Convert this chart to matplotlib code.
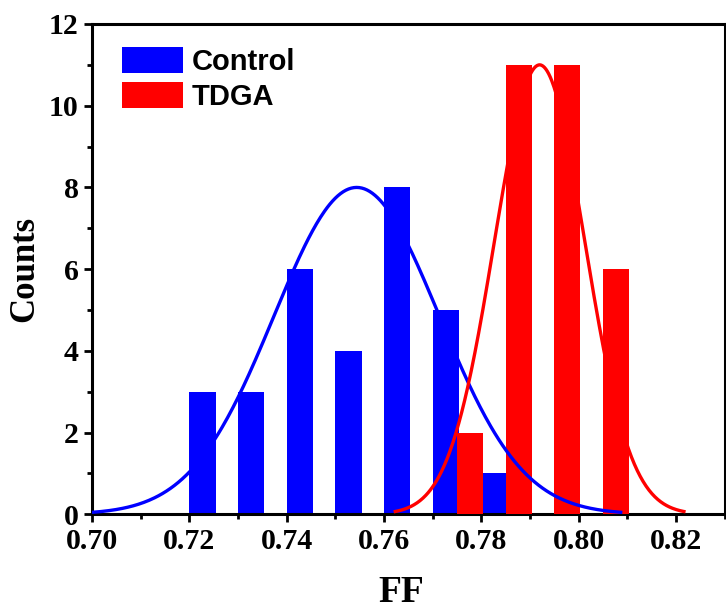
import numpy as np
import matplotlib
matplotlib.use("Agg")
import matplotlib.pyplot as plt
from matplotlib.ticker import MultipleLocator
from matplotlib.patches import Patch

# Data
control_bins = [0.72, 0.73, 0.74, 0.75, 0.76, 0.77, 0.78]
control_counts = [3, 3, 6, 4, 8, 5, 1]
tdga_bins = [0.775, 0.785, 0.795, 0.805]
tdga_counts = [2, 11, 11, 6]
# Gaussian fit parameters (center, sigma, amplitude, x-range)
control_fit = dict(mu=0.7544, sigma=0.0170, amp=8.0, x0=0.700, x1=0.809)
tdga_fit = dict(mu=0.7920, sigma=0.0093, amp=11.0, x0=0.762, x1=0.822)
labels = ["Control", "TDGA"]
colors = ["#0000FF", "#FF0000"]

serif = ["Liberation Serif", "DejaVu Serif"]
sans = ["Liberation Sans", "DejaVu Sans"]

fig = plt.figure(figsize=(7.26, 6.13), dpi=100)
ax = fig.add_axes([92/726, 1 - 514.3/613, (724.5-92)/726, (514.3-24)/613])

bw = 0.0054
ax.bar(control_bins, control_counts, width=bw, align="edge", color=colors[0], linewidth=0, zorder=2)
ax.bar(tdga_bins, tdga_counts, width=bw, align="edge", color=colors[1], linewidth=0, zorder=3)

def gauss(p):
    x = np.linspace(p["x0"], p["x1"], 400)
    return x, p["amp"] * np.exp(-(x - p["mu"]) ** 2 / (2 * p["sigma"] ** 2))

x, y = gauss(control_fit)
ax.plot(x, y, color=colors[0], lw=2.4, zorder=4, solid_capstyle="butt")
x, y = gauss(tdga_fit)
ax.plot(x, y, color=colors[1], lw=2.4, zorder=5, solid_capstyle="butt")

ax.set_xlim(0.70, 0.83)
ax.set_ylim(0, 12)
ax.xaxis.set_major_locator(MultipleLocator(0.02))
ax.xaxis.set_minor_locator(MultipleLocator(0.01))
ax.yaxis.set_major_locator(MultipleLocator(2))
ax.yaxis.set_minor_locator(MultipleLocator(1))
ax.xaxis.set_major_formatter(matplotlib.ticker.FormatStrFormatter("%.2f"))

for s in ax.spines.values():
    s.set_linewidth(2.2)
ax.tick_params(which="major", direction="out", length=6, width=2.0, top=False, right=False)
ax.tick_params(which="minor", direction="out", length=3.5, width=2.0, top=False, right=False)
ax.tick_params(axis="x", which="major", pad=4)
for lab in ax.get_xticklabels() + ax.get_yticklabels():
    lab.set_fontfamily(serif)
    lab.set_fontweight("bold")
    lab.set_fontsize(21.5)

ax.set_xlabel("FF", fontfamily=serif, fontweight="bold", fontsize=27)
ax.xaxis.set_label_coords((401-92)/632.5, -(592-514.3)/490.3 + 0.0)
ax.xaxis.label.set_verticalalignment("center")
ax.set_ylabel("Counts", fontfamily=serif, fontweight="bold", fontsize=25)
ax.yaxis.set_label_coords(-(92-25)/632.5, 0.5)
ax.yaxis.label.set_verticalalignment("center")

handles = [Patch(facecolor=c, edgecolor="none") for c in colors]
ax.legend(handles, labels, loc="upper left", bbox_to_anchor=(30/632.5, 1 - 23/490.3),
          frameon=False, borderpad=0, borderaxespad=0,
          handlelength=2.1, handleheight=1.0, handletextpad=0.3, labelspacing=0.2,
          prop=dict(family=sans, weight="bold", size=21))

fig.savefig("out.png", dpi=100)
